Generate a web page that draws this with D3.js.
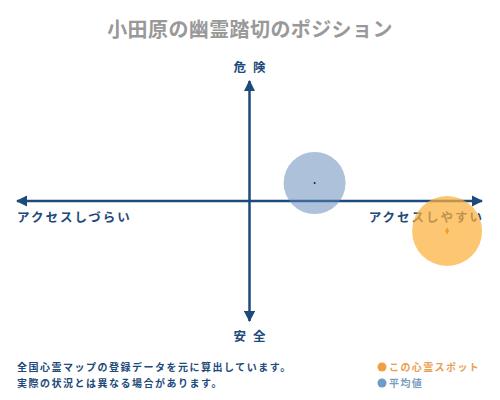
<!DOCTYPE html>
<html>
<head>
<meta charset="utf-8">
<script src="https://cdn.jsdelivr.net/npm/d3@7"></script>
<style>
  body { margin: 0; background: #fff; }
  text { font-family: "Noto Sans CJK JP", sans-serif; }
</style>
</head>
<body>
<svg id="chart" width="500" height="400"></svg>
<script>
// chart data
const title = "小田原の幽霊踏切のポジション";
const axisTop = "危 険";
const axisBottom = "安 全";
const axisLeft = "アクセスしづらい";
const axisRight = "アクセスしやすい";
const seriesNames = ["この心霊スポット", "平均値"];
const xValues = [92.5, 64];
const yValues = [37.5, 57.5];
const notes = ["全国心霊マップの登録データを元に算出しています。", "実際の状況とは異なる場合があります。"];

var svg = d3.select("#chart");
var navy = "#1d4a7a";

var x = d3.scaleLinear().domain([0, 100]).range([17, 482]);
var y = d3.scaleLinear().domain([0, 100]).range([321, 81]);

// arrow heads
var defs = svg.append("defs");
defs.append("marker")
    .attr("id", "arrow")
    .attr("viewBox", "0 0 10 10")
    .attr("refX", 9).attr("refY", 5)
    .attr("markerWidth", 4.5).attr("markerHeight", 4.5)
    .attr("orient", "auto-start-reverse")
    .append("path")
    .attr("d", "M0,0 L10,5 L0,10 z")
    .attr("fill", navy);

svg.append("text")
    .attr("x", 250).attr("y", 37)
    .attr("text-anchor", "middle")
    .attr("font-size", 20)
    .attr("font-weight", "bold")
    .attr("letter-spacing", 0.4)
    .attr("fill", "#999")
    .text(title);

// axes
svg.append("line")
    .attr("x1", x(0)).attr("x2", x(100))
    .attr("y1", y(50)).attr("y2", y(50))
    .attr("stroke", navy).attr("stroke-width", 2.5)
    .attr("marker-start", "url(#arrow)")
    .attr("marker-end", "url(#arrow)");

svg.append("line")
    .attr("x1", x(50)).attr("x2", x(50))
    .attr("y1", y(0)).attr("y2", y(100))
    .attr("stroke", navy).attr("stroke-width", 2.5)
    .attr("marker-start", "url(#arrow)")
    .attr("marker-end", "url(#arrow)");

function label(t, px, py, anchor) {
    svg.append("text")
        .attr("x", px).attr("y", py)
        .attr("text-anchor", anchor)
        .attr("font-size", 12.5)
        .attr("font-weight", "bold")
        .attr("letter-spacing", 2)
        .attr("fill", navy)
        .text(t);
}
label(axisTop, x(50) + 1, y(100) - 9, "middle");
label(axisBottom, x(50) + 1, y(0) + 20, "middle");
label(axisLeft, x(0), y(50) + 21, "start");
label(axisRight, x(100) + 2, y(50) + 21, "end");

// bubbles
var fills = ["#fbb03b", "#5b85b5"];
var opac = [0.72, 0.5];
var radius = [35, 31];
var order = [1, 0];

svg.selectAll("circle.bubble")
    .data(order)
    .enter().append("circle")
    .attr("class", "bubble")
    .attr("cx", function (i) { return x(xValues[i]); })
    .attr("cy", function (i) { return y(yValues[i]); })
    .attr("r", function (i) { return radius[i]; })
    .attr("fill", function (i) { return fills[i]; })
    .attr("fill-opacity", function (i) { return opac[i]; });

// centre marks
svg.append("path")
    .attr("d", d3.symbol().type(d3.symbolDiamond).size(14)())
    .attr("transform", "translate(" + x(xValues[0]) + "," + y(yValues[0]) + ")")
    .attr("fill", "#f0a020");
svg.append("circle")
    .attr("cx", x(xValues[1])).attr("cy", y(yValues[1]))
    .attr("r", 1)
    .attr("fill", "#222");

// footer notes
svg.selectAll("text.note")
    .data(notes)
    .enter().append("text")
    .attr("class", "note")
    .attr("x", 17)
    .attr("y", function (d, i) { return 371 + i * 16; })
    .attr("font-size", 10)
    .attr("font-weight", "bold")
    .attr("letter-spacing", 1.5)
    .attr("fill", navy)
    .text(function (d) { return d; });

// legend
var legendDot = ["#f0a040", "#6c9cc8"];
var legendText = ["#e8a050", "#7a9cc0"];
var lg = svg.selectAll("g.legend")
    .data(seriesNames)
    .enter().append("g")
    .attr("class", "legend")
    .attr("transform", function (d, i) { return "translate(382," + (367 + i * 16) + ")"; });
lg.append("circle")
    .attr("r", 4.5)
    .attr("fill", function (d, i) { return legendDot[i]; });
lg.append("text")
    .attr("x", 7).attr("y", 4)
    .attr("font-size", 10)
    .attr("font-weight", "bold")
    .attr("letter-spacing", 1.4)
    .attr("fill", function (d, i) { return legendText[i]; })
    .text(function (d) { return d; });
</script>
</body>
</html>
